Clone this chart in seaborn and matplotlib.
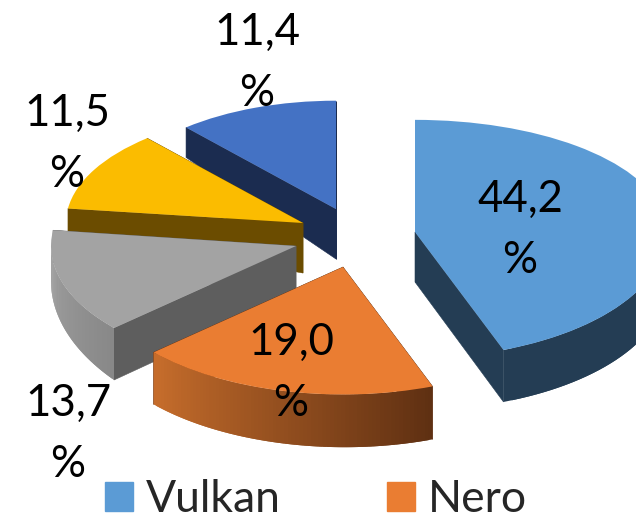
import matplotlib
matplotlib.use("Agg")
import matplotlib.pyplot as plt
from matplotlib.colors import to_rgb
from matplotlib.patches import Patch, PathPatch
from matplotlib.path import Path
import numpy as np
import seaborn as sns

# ── data ───────────────────────────────────────────────────────────────────────────
categories = ["Vulkan", "Nero", "Grigio", "Giallo", "Blu"]
values = [44.2, 19.0, 13.7, 11.5, 11.4]

# ── layout, in pixels of the final picture ─────────────────────────────────────────
W, H = 636, 514
SQUASH = 0.5  # fake tilt of the pie
apex_x = [415, 343, 296, 303, 336]
apex_y = [232, 267, 246, 223, 209]
radius = [252, 255, 245, 237, 228]
back_scale = [0.89, 1.0, 1.0, 0.95, 0.95]  # far side of a slice looks shorter
depth_apex = [50, 52, 50, 50, 50]
depth_start = [52, 53, 52, 24, 30]
depth_end = [52, 52, 32, 24, 30]
draw_order = [4, 3, 2, 0, 1]

top_colors = sns.color_palette(["#5B9BD5", "#EA7D32", "#A3A3A3", "#FBBC00", "#4472C4"])
edge_colors = ["#243D54", "#5F3012", "#5E5E5E", "#6B4C00", "#1B2C50"]
rim_start = ["#243D54", "#5F3012", "#888888", "#6B4C00", "#1B2C50"]
rim_end = ["#243D54", "#C86E2C", "#A6A6A6", "#6B4C00", "#1B2C50"]

label_x = [520, 291, 68, 67, 257]
label_y = [230, 373, 434, 144, 63]

FONT = "Lato"
LABEL_SIZE = 31.5
LEGEND_SIZE = 32

sns.set_theme(style="white")
plt.rcParams["font.family"] = [FONT, "DejaVu Sans"]


def to_data(px, py):
    return px, (H - py) / SQUASH


def warp_y(i, cy, y):
    y = np.asarray(y, dtype=float)
    return np.where(y > cy, cy + (y - cy) * back_scale[i], y)


def lerp_color(a, b, t):
    a, b = np.array(to_rgb(a)), np.array(to_rgb(b))
    return tuple(a + (b - a) * t)


def draw_sides(ax, i, wedge, zorder):
    cx, cy = to_data(apex_x[i], apex_y[i])
    r = radius[i]
    d0 = depth_apex[i] / SQUASH
    d_s = depth_start[i] / SQUASH
    d_e = depth_end[i] / SQUASH

    # clockwise pie: theta2 is where the slice starts
    angles = np.radians(np.linspace(wedge.theta2, wedge.theta1, 80))
    xs = cx + r * np.cos(angles)
    ys = warp_y(i, cy, cy + r * np.sin(angles))
    ts = np.linspace(0, 1, len(angles))
    ds = d_s + (d_e - d_s) * ts

    for x, y, d in [(xs[0], ys[0], d_s), (xs[-1], ys[-1], d_e)]:
        ax.fill([cx, x, x, cx], [cy, y, y - d, cy - d0],
                color=edge_colors[i], lw=0.4, zorder=zorder)
    # only the near part of the rim shows, quads overlap so there are no seams
    for k in range(len(angles) - 2):
        if np.sin(angles[k]) > 0.02 and np.sin(angles[k + 1]) > 0.02:
            continue
        j = k + 2
        ax.fill([xs[k], xs[j], xs[j], xs[k]],
                [ys[k], ys[j], ys[j] - ds[j], ys[k] - ds[k]],
                color=lerp_color(rim_start[i], rim_end[i], ts[k]),
                lw=0, zorder=zorder)


fig = plt.figure(figsize=(W / 100, H / 100), dpi=100)
ax = fig.add_axes([0, 0, 1, 1])

wedges, _ = ax.pie(values, startangle=90, counterclock=False, colors=top_colors)

for z, i in enumerate(draw_order):
    w = wedges[i]
    cy = to_data(apex_x[i], apex_y[i])[1]
    w.set_center(to_data(apex_x[i], apex_y[i]))
    w.set_radius(radius[i])
    draw_sides(ax, i, w, 10 + 2 * z)
    # top face: the same wedge outline with the far side pulled in
    outline = w.get_path()
    verts = outline.vertices.copy()
    verts[:, 1] = warp_y(i, cy, verts[:, 1])
    ax.add_patch(PathPatch(Path(verts, outline.codes), facecolor=top_colors[i],
                           lw=0, zorder=10 + 2 * z + 1))
    w.set_visible(False)

ax.set_aspect("auto")
ax.set_xlim(0, W)
ax.set_ylim(0, H / SQUASH)
ax.axis("off")

for i, v in enumerate(values):
    lx, ly = to_data(label_x[i], label_y[i])
    ax.text(lx, ly, f"{v:.1f}".replace(".", ",") + "\n%", ha="center", va="center",
            fontsize=LABEL_SIZE, color="black", linespacing=1.63, zorder=50)

ax.legend(handles=[Patch(color=top_colors[0], label=categories[0]),
                   Patch(color=top_colors[1], label=categories[1])],
          loc="lower left", bbox_to_anchor=(105 / W, -6 / H), ncol=2, frameon=False,
          fontsize=LEGEND_SIZE, handlelength=0.62, handleheight=0.62,
          handletextpad=0.3, columnspacing=2.4, borderpad=0, borderaxespad=0)

fig.savefig("out.png", dpi=100)
plt.close(fig)
